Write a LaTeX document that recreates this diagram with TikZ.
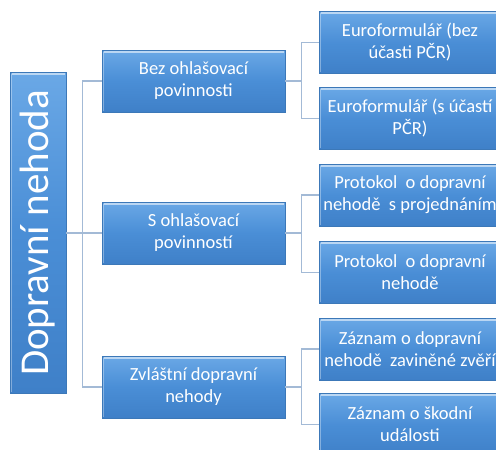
\documentclass[tikz,border=0pt]{standalone}
\usepackage{fontspec}
\setmainfont{Carlito}
\usetikzlibrary{calc}
\definecolor{boxtop}{HTML}{6AA8E6}
\definecolor{boxmid}{HTML}{4A8ED6}
\definecolor{boxbot}{HTML}{3F80C8}
\definecolor{boxedge}{HTML}{3C78B8}
\definecolor{conncol}{HTML}{A3BAD6}
\tikzset{
  box/.style={rectangle, draw=boxedge, line width=0.5pt,
    top color=boxtop, bottom color=boxbot, middle color=boxmid,
    text=white, align=center, inner sep=2pt,
    path picture={
      \draw[white, opacity=0.55, line width=2pt]
        ($(path picture bounding box.north west)+(1.5pt,-1.5pt)$) --
        ($(path picture bounding box.north east)+(-1.5pt,-1.5pt)$);
      \draw[white, opacity=0.35, line width=1.5pt]
        ($(path picture bounding box.north west)+(1.5pt,-1.5pt)$) --
        ($(path picture bounding box.south west)+(1.5pt,1.5pt)$);
    }},
  rootbox/.style={box, minimum width=56pt, minimum height=321pt, font=\fontsize{41}{41}\selectfont},
  lonebox/.style={box, minimum width=183pt, minimum height=62pt, font=\fontsize{18.5}{22}\selectfont},
  ltwobox/.style={box, minimum width=182pt, minimum height=62pt, font=\fontsize{18.5}{22}\selectfont},
  conn/.style={draw=conncol, line width=1.3pt},
}
\begin{document}
\begin{tikzpicture}[x=1pt, y=-1pt]
\useasboundingbox (0,0) rectangle (496,450);
\clip (0,0) rectangle (496,450);
\node[rootbox] (root) at (38,233) {\rotatebox{90}{Dopravní nehoda}};
\node[lonebox] (la) at (193.5,81) {Bez ohlašovací\\povinnosti};
\node[lonebox] (lb) at (193.5,233) {S ohlašovací\\povinností};
\node[lonebox] (lc) at (193.5,387) {Zvláštní dopravní\\nehody};
\node[ltwobox] (a) at (410,42.5) {Euroformulář (bez\\účasti PČR)};
\node[ltwobox] (b) at (410,118.5) {Euroformulář (s účastí\\PČR)};
\node[ltwobox] (c) at (410,195) {Protokol\ \ o dopravní\\nehodě\ \ s projednáním};
\node[ltwobox] (d) at (410,272.5) {Protokol\ \ o dopravní\\nehodě};
\node[ltwobox] (e) at (410,349) {Záznam o dopravní\\nehodě\ \ zaviněné zvěří};
\node[ltwobox] (f) at (410,424.5) {Záznam o škodní\\události};
% root to level 1
\draw[conn] (la.west) -- ++(-19,0) coordinate (ja) |- (lc.west);
\draw[conn] (root.east |- lb.west) -- (lb.west);
% level 1 to level 2
\draw[conn] (la.east) -- ++(17,0);
\draw[conn] (a.west) -- ++(-17,0) |- (b.west);
\draw[conn] (lb.east) -- ++(17,0);
\draw[conn] (c.west) -- ++(-17,0) |- (d.west);
\draw[conn] (lc.east) -- ++(17,0);
\draw[conn] (e.west) -- ++(-17,0) |- (f.west);
\end{tikzpicture}
\end{document}
